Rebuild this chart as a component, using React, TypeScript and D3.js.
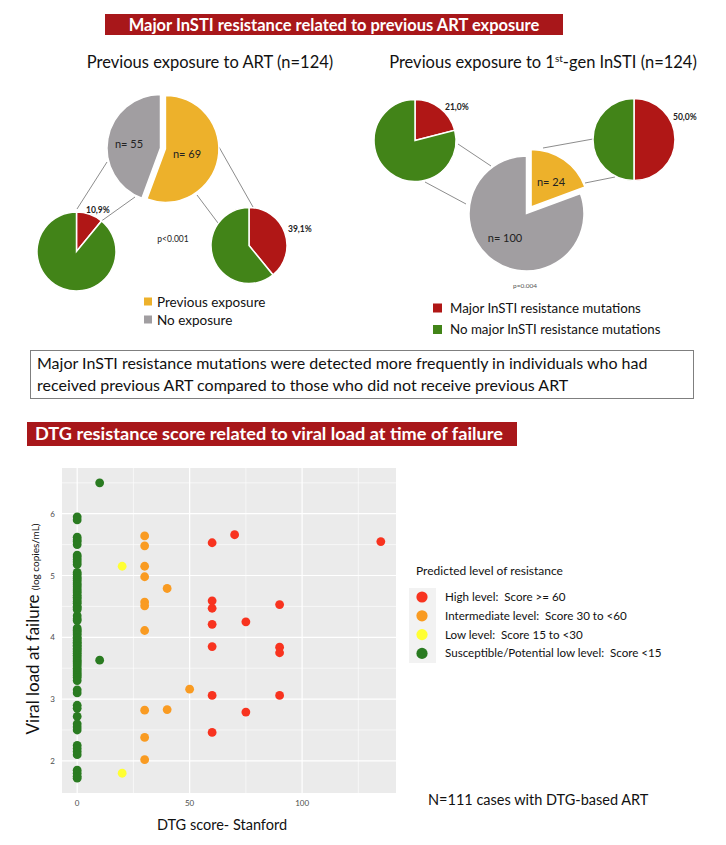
import React from "react";
import * as d3 from "d3";

// ---------- data ----------
const artExposure = [
  { key: "Previous exposure", n: 69 },
  { key: "No exposure", n: 55 },
];
const instiExposure = [
  { key: "Previous exposure", n: 24 },
  { key: "No exposure", n: 100 },
];
// % with major InSTI resistance mutations
const artNoExpPct = 10.9;
const artPrevExpPct = 39.1;
const instiNoExpPct = 21.0;
const instiPrevExpPct = 50.0;

const levelNames = [
  "High level:  Score >= 60",
  "Intermediate level:  Score 30 to <60",
  "Low level:  Score 15 to <30",
  "Susceptible/Potential low level:  Score <15",
];
const levelColors = ["#F8331F", "#F99B22", "#FFFF33", "#2A7B21"];

// DTG score -> viral loads (log copies/mL)
const greenScore0 = [
  5.95, 5.9, 5.62, 5.58, 5.55, 5.5, 5.33, 5.3, 5.26, 5.22, 5.18,
  5.05, 5.02, 4.98, 4.95, 4.92, 4.88, 4.85, 4.82, 4.78, 4.75, 4.72, 4.68, 4.65, 4.62, 4.58, 4.55, 4.5, 4.48,
  4.35, 4.3, 4.27, 4.15, 4.12, 4.1, 4.07, 4.04, 4.0, 3.98, 3.95, 3.92, 3.9, 3.87, 3.85, 3.82, 3.8, 3.77,
  3.74, 3.71, 3.68, 3.65, 3.62, 3.6, 3.57, 3.54, 3.5, 3.47, 3.44, 3.41, 3.38, 3.35, 3.3, 4.45,
  3.15, 3.1, 2.9, 2.85, 2.72, 2.6, 2.55, 2.5, 2.25, 2.2, 2.15, 2.1, 1.85, 1.8, 1.75, 1.72,
];
const greenScore10 = [6.5, 3.63];
const yellowScore20 = [5.15, 1.8];
const orangeScore30 = [5.64, 5.48, 5.15, 4.98, 4.57, 4.51, 4.11, 2.82, 2.38, 2.02];
const orangeScore40 = [4.79, 2.83];
const orangeScore50 = [3.16];
const redScore60 = [5.53, 4.59, 4.47, 4.21, 3.85, 3.06, 2.46];
const redScore70 = [5.66];
const redScore75 = [4.25, 2.79];
const redScore90 = [4.53, 3.84, 3.75, 3.06];
const redScore135 = [5.55];

const xTicks = [0, 50, 100];
const yTicks = [2, 3, 4, 5, 6];

// ---------- styling ----------
const FONT = "Lato, 'Open Sans', sans-serif";
const C_BANNER = "#A8171A";
const C_RED = "#B01716";
const C_GREEN = "#428418";
const C_YELLOW = "#EDB12B";
const C_GRAY = "#A19EA1";

type PieDatum = { key: string; n: number };

function BigPie({ data, cx, cy, r, explodeYellow, explodeGray }: { data: PieDatum[]; cx: number; cy: number; r: number; explodeYellow: number; explodeGray: number }) {
  const arcs = d3.pie<PieDatum>().sort(null).value((d) => d.n)(data);
  const arc = d3.arc<d3.PieArcDatum<PieDatum>>().innerRadius(0).outerRadius(r);
  return (
    <g>
      {arcs.map((a, i) => {
        const mid = (a.startAngle + a.endAngle) / 2;
        const e = i === 0 ? explodeYellow : explodeGray;
        const dx = Math.sin(mid) * e;
        const dy = -Math.cos(mid) * e;
        return (
          <path key={i} d={arc(a) || ""} transform={`translate(${cx + dx},${cy + dy})`} fill={i === 0 ? C_YELLOW : C_GRAY} stroke="#fff" strokeWidth={1.5} />
        );
      })}
    </g>
  );
}

function SmallPie({ pct, cx, cy, r }: { pct: number; cx: number; cy: number; r: number }) {
  const arcs = d3.pie<number>().sort(null)([pct, 100 - pct]);
  const arc = d3.arc<d3.PieArcDatum<number>>().innerRadius(0).outerRadius(r);
  return (
    <g transform={`translate(${cx},${cy})`}>
      {arcs.map((a, i) => (
        <path key={i} d={arc(a) || ""} fill={i === 0 ? C_RED : C_GREEN} stroke="#fff" strokeWidth={1.5} />
      ))}
    </g>
  );
}

export default function App() {
  // scatter scales
  const x = d3.scaleLinear().domain([-6.75, 141.75]).range([62, 396]);
  const y = d3.scaleLinear().domain([1.48, 6.74]).range([793, 468]);
  const xMinor = [25, 75, 125];
  const yMinor = [2.5, 3.5, 4.5, 5.5, 6.5];

  type Pt = { s: number; v: number; c: string };
  const pts: Pt[] = [];
  const add = (s: number, vals: number[], c: string) => vals.forEach((v) => pts.push({ s, v, c }));
  add(0, greenScore0, levelColors[3]);
  add(10, greenScore10, levelColors[3]);
  add(20, yellowScore20, levelColors[2]);
  add(30, orangeScore30, levelColors[1]);
  add(40, orangeScore40, levelColors[1]);
  add(50, orangeScore50, levelColors[1]);
  add(60, redScore60, levelColors[0]);
  add(70, redScore70, levelColors[0]);
  add(75, redScore75, levelColors[0]);
  add(90, redScore90, levelColors[0]);
  add(135, redScore135, levelColors[0]);

  const line = (x1: number, y1: number, x2: number, y2: number, k: string) => (
    <line key={k} x1={x1} y1={y1} x2={x2} y2={y2} stroke="#7f7f7f" strokeWidth={0.9} />
  );

  return (
    <svg width={726} height={845} style={{ position: "absolute", left: 0, top: 0, background: "#fff" }} fontFamily={FONT}>
      <rect x={0} y={0} width={726} height={845} fill="#fff" />
      {/* Banner 1 */}
      <rect x={105} y={14} width={458} height={21} fill={C_BANNER} />
      <text x={334} y={30.5} textAnchor="middle" fill="#fff" fontSize={16.5} fontWeight="bold">Major InSTI resistance related to previous ART exposure</text>

      {/* Left titles */}
      <text x={210} y={68} textAnchor="middle" fontSize={16.5} fill="#111">Previous exposure to ART (n=124)</text>
      <text x={543} y={68} textAnchor="middle" fontSize={16.5} fill="#111">
        Previous exposure to 1<tspan fontSize={10} dy={-6}>st</tspan><tspan dy={6}>-gen InSTI (n=124)</tspan>
      </text>

      {/* Left pie group */}
      {line(77, 209, 107, 162, "l1")}
      {line(100, 222, 135, 197, "l2")}
      {line(197, 195, 218, 223, "l3")}
      {line(219, 147, 253, 207, "l4")}
      <BigPie data={artExposure} cx={160.5} cy={148} r={53.5} explodeYellow={5} explodeGray={0} />
      <text x={187} y={158} textAnchor="middle" fontSize={11} fill="#222">n= {artExposure[0].n}</text>
      <text x={129} y={148} textAnchor="middle" fontSize={11} fill="#222">n= {artExposure[1].n}</text>
      <SmallPie pct={artNoExpPct} cx={76.5} cy={251.5} r={39.5} />
      <SmallPie pct={artPrevExpPct} cx={249} cy={245.5} r={38} />
      <text x={86} y={213} fontSize={8.5} fontWeight="bold" fill="#222">{artNoExpPct.toFixed(1).replace(".", ",")}%</text>
      <text x={288} y={232} fontSize={8.5} fontWeight="bold" fill="#222">{artPrevExpPct.toFixed(1).replace(".", ",")}%</text>
      <text x={173} y={242} textAnchor="middle" fontSize={8.5} fill="#222">p&lt;0.001</text>

      <rect x={144} y={297.5} width={8} height={8} fill={C_YELLOW} />
      <text x={157} y={307} fontSize={13.5} fill="#111">Previous exposure</text>
      <rect x={144} y={315.5} width={8} height={8} fill={C_GRAY} />
      <text x={157} y={325} fontSize={13.5} fill="#111">No exposure</text>

      {/* Right pie group */}
      {line(458, 144, 491, 166, "r1")}
      {line(425, 182, 466, 204, "r2")}
      {line(543, 148, 593, 139, "r3")}
      {line(585, 183, 615, 177, "r4")}
      <BigPie data={instiExposure} cx={526.5} cy={213.5} r={57.5} explodeYellow={8} explodeGray={0} />
      <text x={551} y={186} textAnchor="middle" fontSize={11} fill="#222">n= {instiExposure[0].n}</text>
      <text x={505} y={242} textAnchor="middle" fontSize={11} fill="#222">n= {instiExposure[1].n}</text>
      <SmallPie pct={instiNoExpPct} cx={415} cy={140.5} r={41} />
      <SmallPie pct={instiPrevExpPct} cx={634} cy={139.5} r={41} />
      <text x={445} y={110} fontSize={8.5} fontWeight="bold" fill="#222">{instiNoExpPct.toFixed(1).replace(".", ",")}%</text>
      <text x={673} y={120} fontSize={8.5} fontWeight="bold" fill="#222">{instiPrevExpPct.toFixed(1).replace(".", ",")}%</text>
      <text x={525} y={288} textAnchor="middle" fontSize={6.5} fill="#555">p=0.004</text>

      <rect x={433} y={303.5} width={9} height={9} fill={C_RED} />
      <text x={450} y={313} fontSize={13.3} fill="#111">Major InSTI resistance mutations</text>
      <rect x={433} y={325} width={9} height={9} fill={C_GREEN} />
      <text x={450} y={334} fontSize={13.3} fill="#111">No major InSTI resistance mutations</text>

      {/* Conclusion box */}
      <rect x={30.5} y={350.5} width={663} height={48} fill="#fff" stroke="#7f7f7f" strokeWidth={1} />
      <text x={37} y={368.5} fontSize={16} fill="#111">Major InSTI resistance mutations were detected more frequently in individuals who had</text>
      <text x={37} y={391} fontSize={16} fill="#111">received previous ART compared to those who did not receive previous ART</text>

      {/* Banner 2 */}
      <rect x={27} y={422} width={490} height={24} fill={C_BANNER} />
      <text x={35} y={439.5} fill="#fff" fontSize={16.5} fontWeight="bold" textLength={468} lengthAdjust="spacingAndGlyphs">DTG resistance score related to viral load at time of failure</text>

      {/* Scatter panel */}
      <rect x={62} y={468} width={334} height={325} fill="#EBEBEB" />
      {xMinor.map((t) => (
        <line key={"xm" + t} x1={x(t)} x2={x(t)} y1={468} y2={793} stroke="#fff" strokeWidth={0.6} />
      ))}
      {yMinor.map((t) => (
        <line key={"ym" + t} x1={62} x2={396} y1={y(t)} y2={y(t)} stroke="#fff" strokeWidth={0.6} />
      ))}
      {xTicks.map((t) => (
        <line key={"xM" + t} x1={x(t)} x2={x(t)} y1={468} y2={793} stroke="#fff" strokeWidth={1.2} />
      ))}
      {yTicks.map((t) => (
        <line key={"yM" + t} x1={62} x2={396} y1={y(t)} y2={y(t)} stroke="#fff" strokeWidth={1.2} />
      ))}
      {pts.map((p, i) => (
        <circle key={i} cx={x(p.s)} cy={y(p.v)} r={4.4} fill={p.c} />
      ))}
      {xTicks.map((t) => (
        <text key={"xt" + t} x={x(t)} y={806} textAnchor="middle" fontSize={8} fill="#4d4d4d">{t}</text>
      ))}
      {yTicks.map((t) => (
        <text key={"yt" + t} x={55} y={y(t) + 3} textAnchor="end" fontSize={8} fill="#4d4d4d">{t}</text>
      ))}
      <text x={222} y={830} textAnchor="middle" fontSize={14.5} fill="#111">DTG score- Stanford</text>
      <text transform="translate(39,629) rotate(-90)" textAnchor="middle" fontSize={17} fill="#111">
        Viral load at failure <tspan fontSize={10}>(log copies/mL)</tspan>
      </text>

      {/* Scatter legend */}
      <text x={416} y={575} fontSize={12} fill="#111">Predicted level of resistance</text>
      <rect x={409} y={588} width={27} height={75} fill="#F2F2F2" />
      {levelNames.map((name, i) => (
        <g key={name}>
          <circle cx={422} cy={597 + i * 18.8} r={5.6} fill={levelColors[i]} />
          <text x={445} y={601 + i * 18.8} fontSize={11.6} fill="#111" xmlSpace="preserve" style={{ whiteSpace: "pre" }}>{name}</text>
        </g>
      ))}
      <text x={428} y={805} fontSize={14.5} fill="#111">N=111 cases with DTG-based ART</text>
    </svg>
  );
}
